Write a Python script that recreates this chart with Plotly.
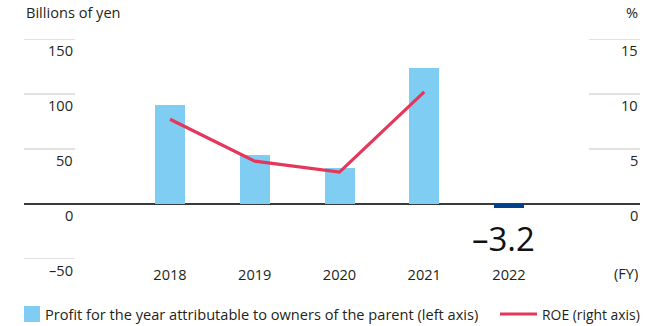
import plotly.graph_objects as go

# Fiscal years and values
years = ["2018", "2019", "2020", "2021", "2022"]
profit = [90.0, 44.5, 33.0, 123.6, -3.2]          # billions of yen (left axis)
roe_years = ["2018", "2019", "2020", "2021"]
roe = [7.7, 3.9, 2.9, 10.2]                      # % (right axis)

left_ticks = [150, 100, 50, 0, -50]
right_ticks = [15, 10, 5, 0]
label_value = "\u20133.2"

BLUE = "#7fcdf2"
NAVY = "#00428c"
RED = "#e6375a"
TEXT = "#231f20"
GRID = "#c4c4c4"
FONT = "Open Sans"
FS = 14.6

bar_colors = [NAVY if v < 0 else BLUE for v in profit]

fig = go.Figure()
fig.add_trace(go.Bar(x=years, y=profit, marker=dict(color=bar_colors, line=dict(width=0)),
                     width=0.354, yaxis="y", showlegend=False))
fig.add_trace(go.Scatter(x=roe_years, y=roe, mode="lines", line=dict(color=RED, width=3.2),
                         yaxis="y2", showlegend=False))

shapes = []
annotations = []
# short gridline stubs and tick labels on both sides
for v in left_ticks:
    if v != 0:
        shapes.append(dict(type="line", xref="paper", yref="y", x0=0, x1=0.083, y0=v, y1=v,
                           line=dict(color=GRID, width=1)))
    annotations.append(dict(xref="paper", yref="y", x=0.083, y=v, text=f"{v}".replace("-", "\u2013"),
                            showarrow=False, xanchor="right", yanchor="top", yshift=1,
                            font=dict(size=FS, color=TEXT, family=FONT)))
for v in right_ticks:
    if v != 0:
        shapes.append(dict(type="line", xref="paper", yref="y2", x0=0.917, x1=1, y0=v, y1=v,
                           line=dict(color=GRID, width=1)))
    annotations.append(dict(xref="paper", yref="y2", x=1, y=v, text=f"{v}",
                            showarrow=False, xanchor="right", yanchor="top", yshift=1,
                            font=dict(size=FS, color=TEXT, family=FONT)))

# value label of the negative year (category referenced by its serial index)
annotations.append(dict(xref="x", yref="y", x=years.index("2022"), y=profit[-1], text=label_value,
                        showarrow=False, xanchor="center", yanchor="top", yshift=-6, xshift=-5,
                        font=dict(size=33, color="#111111", family=FONT)))
# axis titles
annotations.append(dict(xref="paper", yref="paper", x=0, y=1, text="Billions of yen",
                        showarrow=False, xanchor="left", yanchor="bottom", yshift=15,
                        font=dict(size=FS, color=TEXT, family=FONT)))
annotations.append(dict(xref="paper", yref="paper", x=1, y=1, text="%",
                        showarrow=False, xanchor="right", yanchor="bottom", yshift=15,
                        font=dict(size=FS, color=TEXT, family=FONT)))
annotations.append(dict(xref="paper", yref="paper", x=1, y=0, text="(FY)",
                        showarrow=False, xanchor="right", yanchor="middle", yshift=-14,
                        font=dict(size=FS, color=TEXT, family=FONT)))

# legend drawn manually
shapes.append(dict(type="rect", xref="paper", yref="paper", x0=0, x1=16 / 616,
                   y0=-47 / 220, y1=-63 / 220, fillcolor=BLUE, line=dict(width=0)))
annotations.append(dict(xref="paper", yref="paper", x=19 / 616, y=-55 / 220,
                        text="Profit for the year attributable to owners of the parent (left axis)",
                        showarrow=False, xanchor="left", yanchor="middle",
                        font=dict(size=FS, color=TEXT, family=FONT)))
shapes.append(dict(type="line", xref="paper", yref="paper", x0=476 / 616, x1=513 / 616,
                   y0=-55 / 220, y1=-55 / 220, line=dict(color=RED, width=3)))
annotations.append(dict(xref="paper", yref="paper", x=516 / 616, y=-55 / 220,
                        text="ROE (right axis)",
                        showarrow=False, xanchor="left", yanchor="middle",
                        font=dict(size=13.9, color=TEXT, family=FONT)))

fig.update_layout(
    width=662, height=326,
    margin=dict(l=24, r=22, t=39, b=67),
    paper_bgcolor="white", plot_bgcolor="white",
    font=dict(family=FONT, size=FS, color=TEXT),
    xaxis=dict(type="category", range=[-1.723, 5.546], showgrid=False, zeroline=False,
               showline=False, ticks="", tickfont=dict(size=FS, color=TEXT),
               ticklabelstandoff=5),
    yaxis=dict(range=[-50, 150], showgrid=False, showticklabels=False, zeroline=True,
               zerolinecolor="#3a3a3a", zerolinewidth=1.6, showline=False),
    yaxis2=dict(range=[-5, 15], overlaying="y", side="right", showgrid=False,
                showticklabels=False, zeroline=False, showline=False),
    shapes=shapes,
    annotations=annotations,
    bargap=0,
)

fig.write_html("out.html")
